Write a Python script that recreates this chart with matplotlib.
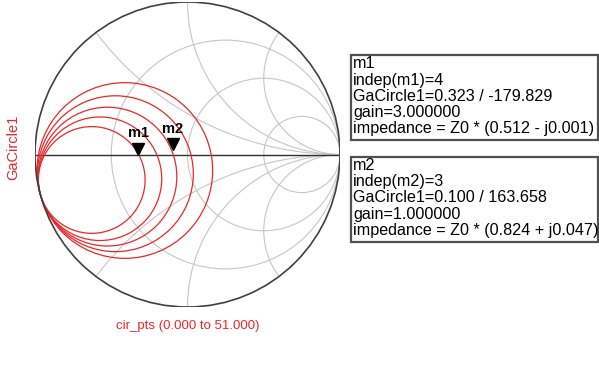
import matplotlib
matplotlib.use("Agg")
import matplotlib.pyplot as plt
from matplotlib.patches import Circle, Rectangle
from matplotlib.transforms import offset_copy
import numpy as np

plt.rcParams['font.family'] = ['Liberation Sans', 'DejaVu Sans']

# available gain circles (GaCircle1) in the reflection plane, inner to outer
gain_db = [3, 2, 1, 0, -1]
center_re = [-0.628, -0.574, -0.525, -0.473, -0.411]
center_im = [-0.167, -0.159, -0.145, -0.126, -0.105]
radius = [0.350, 0.405, 0.455, 0.511, 0.576]

# smith chart grid values
r_grid = [1/3, 1, 3]
x_grid = [0.5, 1, 2, -0.5, -1, -2]

# markers
marker_names = ['m1', 'm2']
marker_indep = [4, 3]
marker_mag = [0.323, 0.100]
marker_ang = [-179.829, 163.658]
marker_gain = [3.0, 1.0]
marker_z = ['(0.512 - j0.001)', '(0.824 + j0.047)']

RED = '#e82828'
GRID = '#c6c6c6'

fig = plt.figure(figsize=(5.99, 3.91), dpi=100)
ax = fig.add_axes([35/599, 84/391, 305/599, 305/391])
ax.set_xlim(-1, 1)
ax.set_ylim(-1, 1)
ax.axis('off')

outer = Circle((0, 0), 1, fill=False, ec='#404040', lw=1.2, zorder=5)
ax.add_patch(outer)

for r in r_grid:
    c = Circle((r/(1+r), 0), 1/(1+r), fill=False, ec=GRID, lw=0.8, zorder=1)
    ax.add_patch(c)
    c.set_clip_path(outer)
for x in x_grid:
    c = Circle((1, 1/x), 1/abs(x), fill=False, ec=GRID, lw=0.8, zorder=1)
    ax.add_patch(c)
    c.set_clip_path(outer)

ax.plot([-1, 1], [0, 0], color='#303030', lw=1.0, zorder=2)

for cr, ci, rad in zip(center_re, center_im, radius):
    ax.add_patch(Circle((cr, ci), rad, fill=False, ec=RED, lw=0.9, zorder=3))

tri_tr = offset_copy(ax.transData, fig=fig, x=0, y=4.3, units='points')
lab_tr = offset_copy(ax.transData, fig=fig, x=0, y=15.5, units='points')
for name, mag, ang in zip(marker_names, marker_mag, marker_ang):
    g = mag * np.exp(1j * np.deg2rad(ang))
    ax.plot(g.real, g.imag, marker='v', ms=9, color='black', transform=tri_tr,
            clip_on=False, zorder=6)
    ax.text(g.real, g.imag, name, transform=lab_tr, ha='center', va='center',
            fontsize=10.5, fontweight='bold', color='black', zorder=6)

fig.text(13/599, 1 - 147/391, 'GaCircle1', rotation=90, color=RED,
         ha='center', va='center', fontsize=10.5)
fig.text(187.5/599, 1 - 326/391, 'cir_pts (0.000 to 51.000)', color=RED,
         ha='center', va='center', fontsize=9.5)

# marker readout boxes
ov = fig.add_axes([0, 0, 1, 1])
ov.set_xlim(0, 599)
ov.set_ylim(391, 0)
ov.axis('off')
ov.set_facecolor('none')

box_top = [55, 156.7]
base0 = [68.5, 170]
for i, name in enumerate(marker_names):
    ov.add_patch(Rectangle((351, box_top[i]), 246.7, 85, fill=False,
                           ec='#505050', lw=1.6))
    lines = [name,
             f'indep({name})={marker_indep[i]}',
             f'GaCircle1={marker_mag[i]:.3f} / {marker_ang[i]:.3f}',
             f'gain={marker_gain[i]:.6f}',
             f'impedance = Z0 * {marker_z[i]}']
    for k, s in enumerate(lines):
        ov.text(353, base0[i] + 16.25*k, s, ha='left', va='baseline',
                fontsize=11.6, color='black')

fig.savefig('out.png', dpi=100)
